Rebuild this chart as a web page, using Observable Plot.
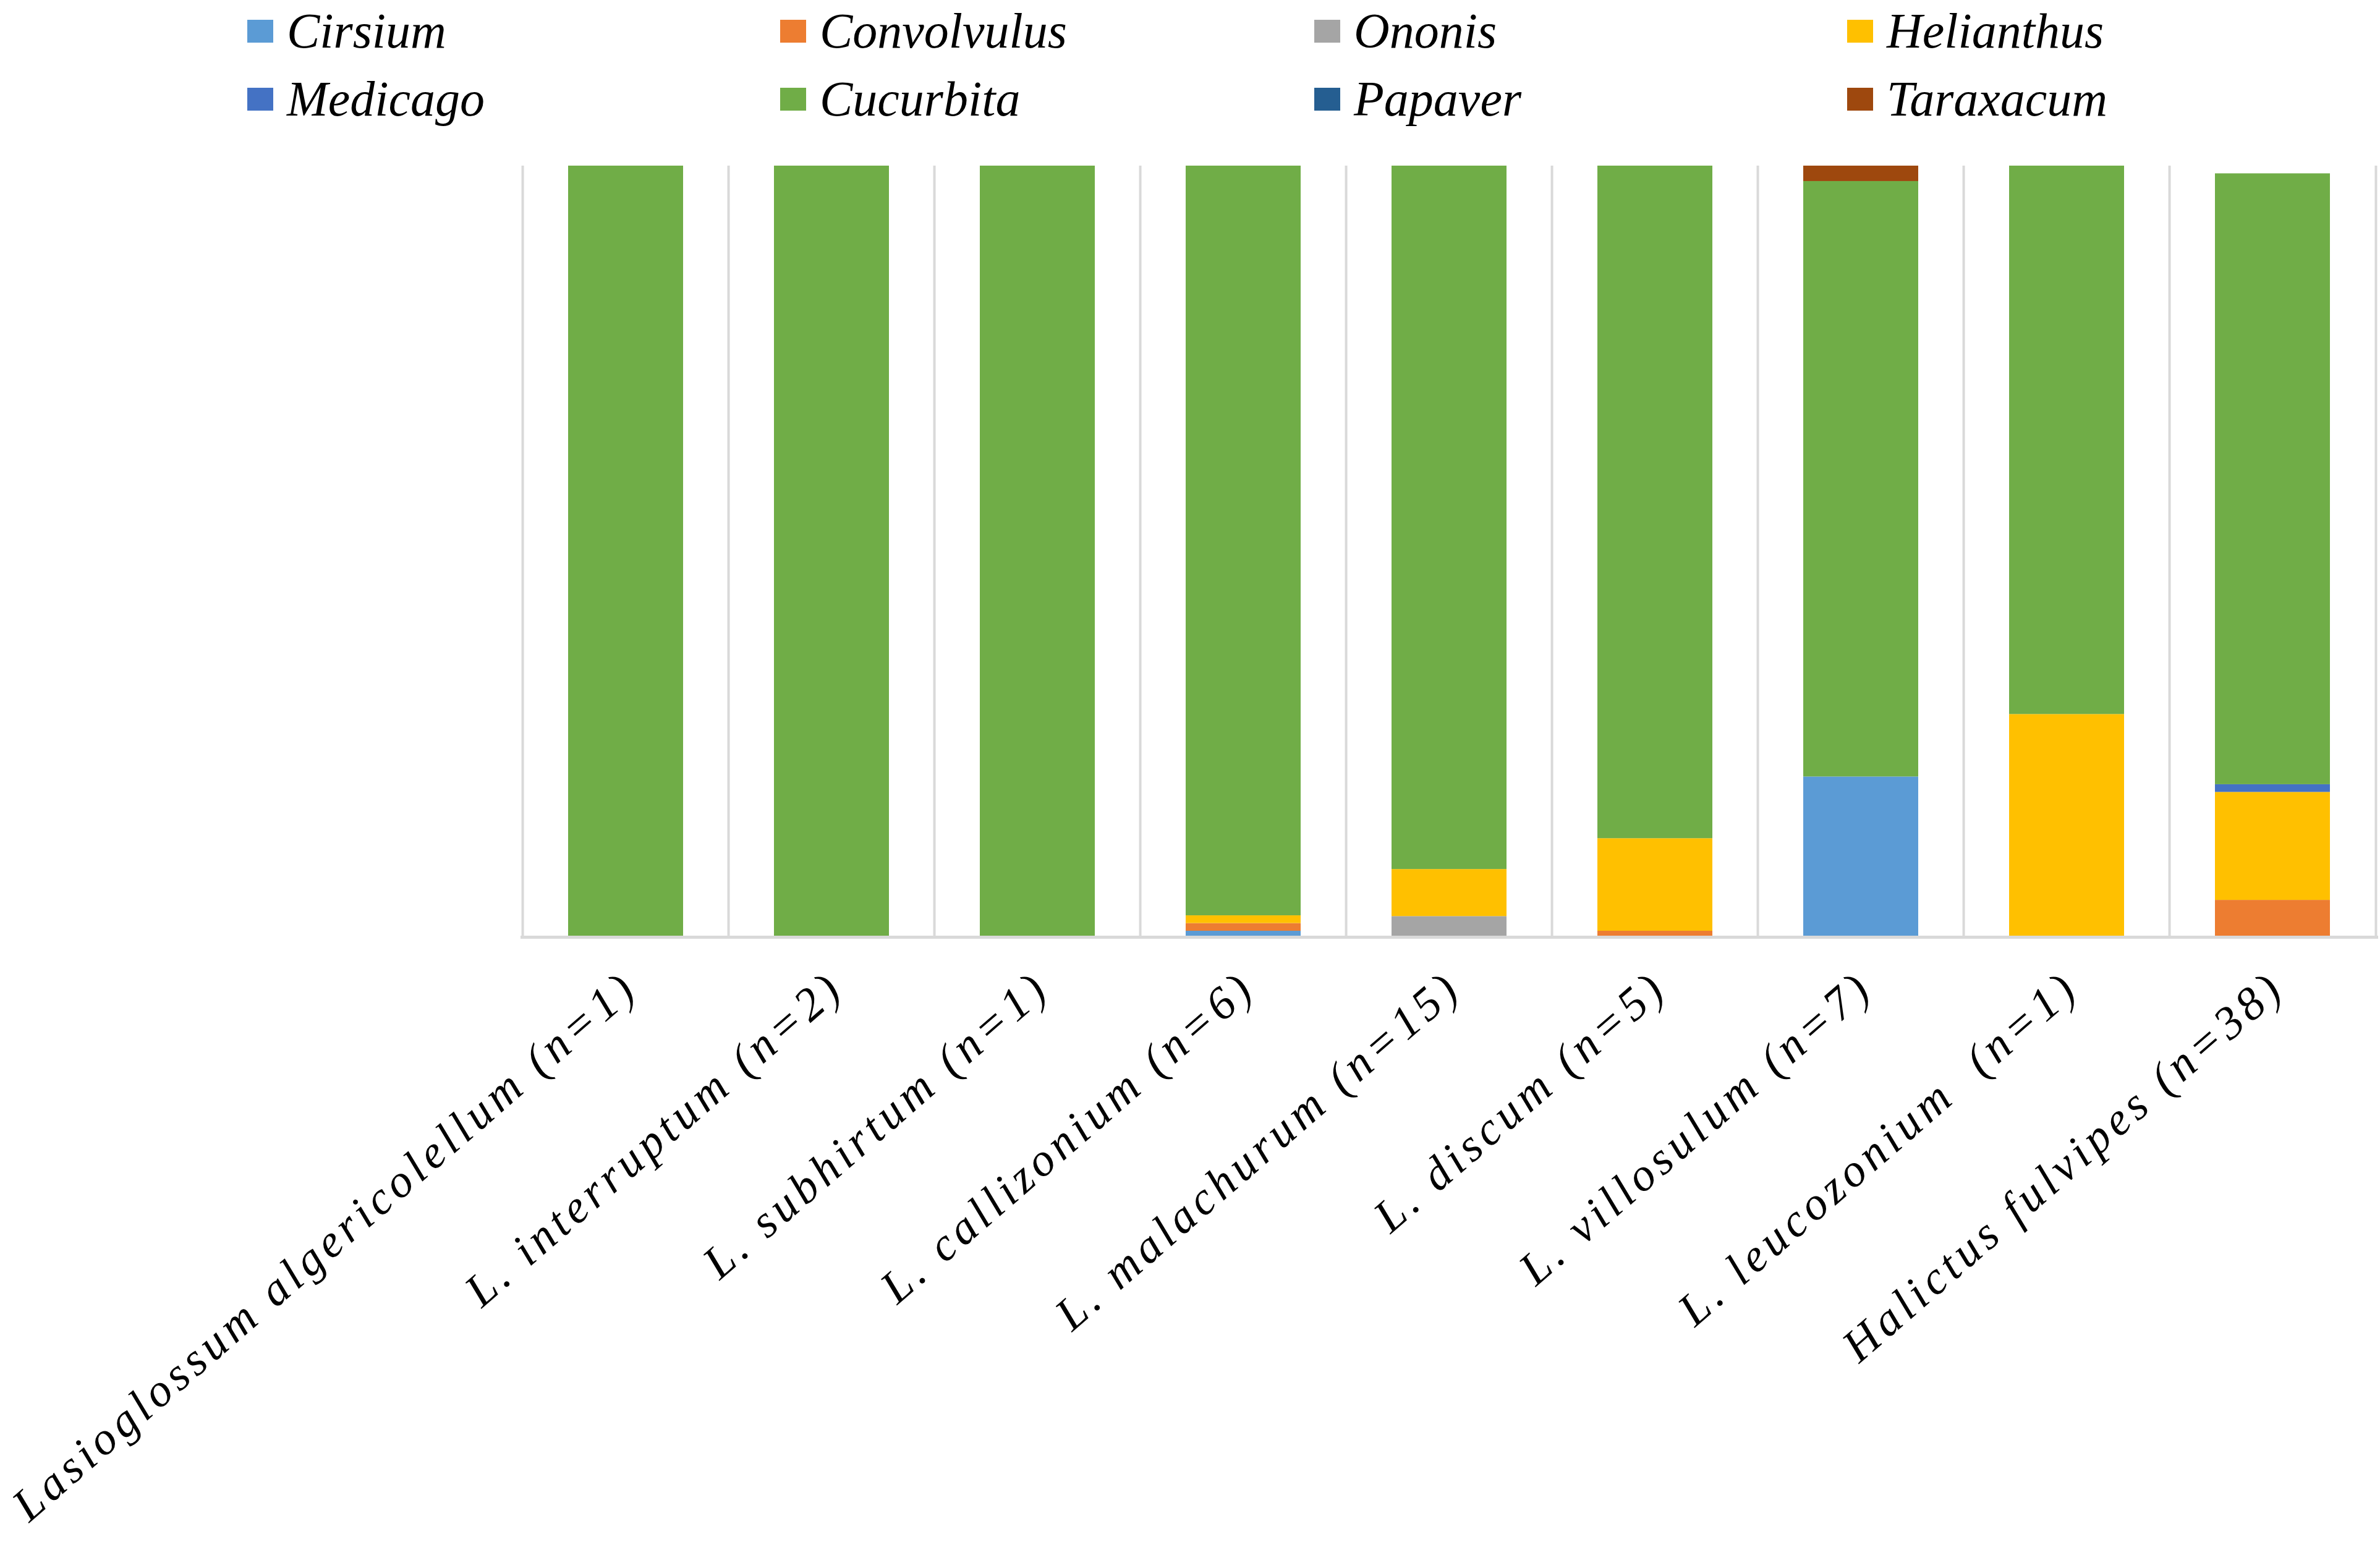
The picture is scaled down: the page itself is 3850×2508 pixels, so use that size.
<!DOCTYPE html>
<html>
<head>
<meta charset="utf-8">
<style>
  html, body { margin: 0; padding: 0; background: #fff; font-family: 'Liberation Serif', serif; }
  #wrap { position: relative; width: 3850px; height: 2508px; }
  #legend { position: absolute; left: 0; top: 0; width: 3850px; height: 230px; }
  .item { position: absolute; display: flex; align-items: center; height: 90px; white-space: nowrap; color: #000; }
  .sw { width: 42px; height: 37px; margin-right: 22px; flex: none; }
  .lt { font-family: 'Liberation Serif', serif; font-size: 80px; font-style: italic; line-height: 90px; }
  #chart { position: absolute; left: 0; top: 230px; }
</style>
</head>
<body>
<div id="wrap">
  <div id="legend"></div>
  <div id="chart"></div>
</div>
<script src="https://cdn.jsdelivr.net/npm/d3@7"></script>
<script src="https://cdn.jsdelivr.net/npm/@observablehq/plot@0.6"></script>
<script>
// ---- data ----
const categories = [
  "Lasioglossum algericolellum (n=1)",
  "L. interruptum (n=2)",
  "L. subhirtum (n=1)",
  "L. callizonium (n=6)",
  "L. malachurum (n=15)",
  "L. discum (n=5)",
  "L. villosulum (n=7)",
  "L. leucozonium\u00A0\u00A0(n=1)",
  "Halictus fulvipes (n=38)"
];
const genera = ["Cirsium", "Convolvulus", "Ononis", "Helianthus", "Medicago", "Cucurbita", "Papaver", "Taraxacum"];
const colors = ["#5B9BD5", "#ED7D31", "#A5A5A5", "#FFC000", "#4472C4", "#70AD47", "#255E91", "#9E480E"];

const cirsium     = [0, 0, 0, 0.8, 0,    0,    20.8, 0,    0];
const convolvulus = [0, 0, 0, 1.0, 0,    0.8,  0,    0,    4.8];
const ononis      = [0, 0, 0, 0,   2.7,  0,    0,    0,    0];
const helianthus  = [0, 0, 0, 1.0, 6.1,  12.0, 0,    28.9, 14.0];
const medicago    = [0, 0, 0, 0,   0,    0,    0,    0,    1.0];
const cucurbita   = [100, 100, 100, 97.2, 91.2, 87.2, 77.2, 71.1, 79.2];
const papaver     = [0, 0, 0, 0,   0,    0,    0,    0,    0];
const taraxacum   = [0, 0, 0, 0,   0,    0,    2.0,  0,    0];

const seriesValues = [cirsium, convolvulus, ononis, helianthus, medicago, cucurbita, papaver, taraxacum];

// ---- table ----
const table = [];
categories.forEach((c, i) => {
  genera.forEach((g, j) => {
    table.push({cat: c, genus: g, value: seriesValues[j][i]});
  });
});

const serifName = "Liberation Serif";

// ---- legend ----
const legend = document.getElementById("legend");
const colX = [400, 1262, 2126, 2988];
const rowY = [50, 160];
genera.forEach((g, k) => {
  const d = document.createElement("div");
  d.className = "item";
  d.style.left = colX[k % 4] + "px";
  d.style.top = (rowY[Math.floor(k / 4)] - 45) + "px";
  const s = document.createElement("div");
  s.className = "sw";
  s.style.background = colors[k];
  const t = document.createElement("span");
  t.className = "lt";
  t.textContent = g;
  d.appendChild(s); d.appendChild(t);
  legend.appendChild(d);
});

// ---- chart ----
const W = 3850, H = 2278, mL = 842, mR = 3, mT = 38, mB = 992;
const step = (W - mL - mR) / categories.length;

const chart = Plot.plot({
  width: W,
  height: H,
  marginLeft: mL,
  marginRight: mR,
  marginTop: mT,
  marginBottom: mB,
  style: {background: "#fff", overflow: "visible"},
  x: {domain: categories, paddingInner: 0.44, paddingOuter: 0.22, axis: null},
  y: {domain: [0, 100], axis: null},
  color: {domain: genera, range: colors},
  marks: [
    Plot.ruleX(categories, {x: d => d, dx: -step / 2, stroke: "#d9d9d9", strokeWidth: 4}),
    Plot.ruleX([categories[categories.length - 1]], {x: d => d, dx: step / 2, stroke: "#d9d9d9", strokeWidth: 4}),
    Plot.barY(table, {x: "cat", y: "value", fill: "genus"}),
    Plot.ruleY([0], {stroke: "#d9d9d9", strokeWidth: 5}),
    Plot.axisX({
      tickSize: 0,
      tickPadding: 0,
      tickRotate: -41,
      textAnchor: "end",
      fontSize: 75,
      fontStyle: "italic",
      fontFamily: serifName,
      fill: "#000",
      dy: 70,
      dx: 8,
      label: null
    })
  ]
});
chart.querySelectorAll("text").forEach(el => {
  el.style.setProperty("font-family", "'Liberation Serif', serif");
  el.style.setProperty("font-style", "italic");
  el.style.setProperty("letter-spacing", "7.5px");
});
document.getElementById("chart").appendChild(chart);
</script>
</body>
</html>
